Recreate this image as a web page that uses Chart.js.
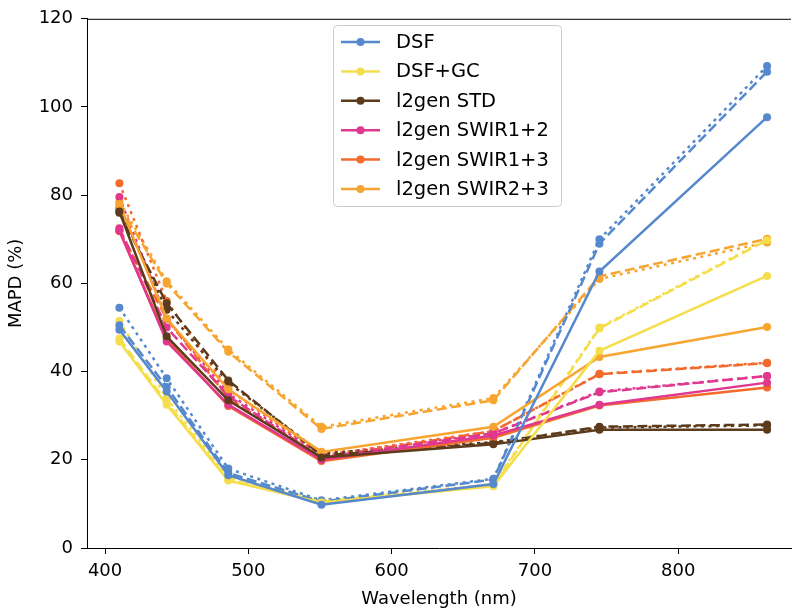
<!DOCTYPE html>
<html>
<head>
<meta charset="utf-8">
<script src="https://cdn.jsdelivr.net/npm/chart.js@4.4.1/dist/chart.umd.min.js"></script>
<style>
  html, body { margin: 0; padding: 0; background: #fff; overflow: hidden; }
  canvas { display: block; }
</style>
</head>
<body>
<canvas id="mapd_chart" width="795" height="613"></canvas>
<script>
// wavelengths (nm) of the bands
const wavelengths = [410, 443, 486, 551, 671, 745, 862];
const xTicks = [400, 500, 600, 700, 800];
const yTicks = [0, 20, 40, 60, 80, 100, 120];

const methods = ["DSF", "DSF+GC", "l2gen STD", "l2gen SWIR1+2", "l2gen SWIR1+3", "l2gen SWIR2+3"];
const colors = ["#5588cc", "#f4de4c", "#5c3b1c", "#e0378f", "#f26a2c", "#f7a530"];

// MAPD values: solid / dashed / dotted per method
const dsfSolid = [49.5, 35.5, 16.5, 9.8, 14.5, 62.7, 97.7];
const dsfDashed = [50.5, 36.5, 17.0, 10.5, 15.5, 69.0, 108.0];
const dsfDotted = [54.5, 38.5, 18.0, 10.8, 15.7, 70.0, 109.3];

const gcSolid = [46.8, 32.5, 15.3, 10.3, 14.0, 44.7, 61.7];
const gcDashed = [47.5, 33.0, 15.5, 10.5, 14.2, 49.8, 69.8];
const gcDotted = [51.5, 34.0, 16.0, 10.6, 14.5, 50.0, 70.0];

const stdSolid = [76.3, 48.0, 33.5, 20.5, 23.5, 26.8, 26.8];
const stdDashed = [76.0, 55.5, 38.0, 21.0, 23.8, 27.5, 28.0];
const stdDotted = [77.0, 54.0, 37.5, 21.5, 24.0, 27.3, 27.8];

const swir12Solid = [72.0, 46.8, 32.5, 20.0, 25.5, 32.5, 37.5];
const swir12Dashed = [72.5, 50.0, 34.5, 20.5, 26.0, 35.3, 39.0];
const swir12Dotted = [79.6, 52.0, 35.0, 21.0, 26.0, 35.5, 39.0];

const swir13Solid = [71.8, 47.5, 32.2, 19.7, 25.0, 32.3, 36.4];
const swir13Dashed = [72.0, 52.0, 34.0, 20.5, 26.5, 39.4, 41.9];
const swir13Dotted = [82.7, 56.0, 36.0, 21.0, 26.5, 39.5, 42.0];

const swir23Solid = [78.0, 52.0, 36.0, 21.8, 27.5, 43.3, 50.1];
const swir23Dashed = [77.5, 60.0, 44.5, 27.0, 33.5, 61.6, 70.1];
const swir23Dotted = [78.5, 60.5, 45.0, 27.5, 34.0, 61.0, 69.3];

const solidSeries = [dsfSolid, gcSolid, stdSolid, swir12Solid, swir13Solid, swir23Solid];
const dashedSeries = [dsfDashed, gcDashed, stdDashed, swir12Dashed, swir13Dashed, swir23Dashed];
const dottedSeries = [dsfDotted, gcDotted, stdDotted, swir12Dotted, swir13Dotted, swir23Dotted];

const FONT = "'DejaVu Sans', sans-serif";
const DASHED = [10, 4.5];
const DOTTED = [3, 4.5];

function makeDataset(label, values, color, dash) {
  return {
    label: label,
    data: values.map((v, i) => ({ x: wavelengths[i], y: v })),
    borderColor: color,
    backgroundColor: color,
    pointBackgroundColor: color,
    pointBorderWidth: 0,
    pointRadius: 4,
    borderWidth: 2.5,
    borderDash: dash,
    borderCapStyle: "butt",
    tension: 0,
    fill: false,
  };
}

const datasets = [];
methods.forEach(function (name, i) {
  datasets.push(makeDataset(name, solidSeries[i], colors[i], []));
});
methods.forEach(function (name, i) {
  datasets.push(makeDataset(name + " dashed", dashedSeries[i], colors[i], DASHED));
});
methods.forEach(function (name, i) {
  datasets.push(makeDataset(name + " dotted", dottedSeries[i], colors[i], DOTTED));
});

// top spine + matplotlib style legend box
const framePlugin = {
  id: "frame",
  afterDraw(chart) {
    const ctx = chart.ctx;
    const area = chart.chartArea;
    ctx.save();
    ctx.strokeStyle = "#000";
    ctx.lineWidth = 1;
    ctx.beginPath();
    ctx.moveTo(area.left, area.top + 0.5);
    ctx.lineTo(area.right, area.top + 0.5);
    ctx.stroke();

    // legend
    const bx = 333, by = 25, bw = 228, bh = 181, r = 4;
    ctx.beginPath();
    ctx.roundRect(bx + 0.5, by + 0.5, bw, bh, r);
    ctx.fillStyle = "rgba(255,255,255,0.8)";
    ctx.fill();
    ctx.strokeStyle = "#cccccc";
    ctx.stroke();

    ctx.font = "19.5px " + FONT;
    ctx.textBaseline = "middle";
    ctx.textAlign = "left";
    methods.forEach(function (name, i) {
      const y = 42 + i * 29.4;
      ctx.strokeStyle = colors[i];
      ctx.lineWidth = 2.5;
      ctx.beginPath();
      ctx.moveTo(341, y);
      ctx.lineTo(380, y);
      ctx.stroke();
      ctx.fillStyle = colors[i];
      ctx.beginPath();
      ctx.arc(360.5, y, 4, 0, Math.PI * 2);
      ctx.fill();
      ctx.fillStyle = "#000";
      ctx.fillText(name, 396, y + 1);
    });
    ctx.restore();
  },
};

document.addEventListener("DOMContentLoaded", function () {
  const canvas = document.getElementById("mapd_chart");
  new Chart(canvas, {
    type: "line",
    data: { datasets: datasets },
    options: {
      responsive: false,
      animation: false,
      devicePixelRatio: 1,
      layout: { padding: { top: 16, right: 0, left: 0, bottom: 0 } },
      plugins: {
        legend: { display: false },
        tooltip: { enabled: false },
      },
      scales: {
        x: {
          type: "linear",
          min: 387.4,
          max: 878.7,
          afterFit(scale) { scale.height = 65; },
          afterBuildTicks(axis) { axis.ticks = xTicks.map((v) => ({ value: v })); },
          grid: { drawOnChartArea: false, drawTicks: true, tickLength: 6, color: "#000", tickWidth: 1 },
          border: { display: true, color: "#000", width: 1 },
          ticks: { color: "#000", padding: 7, font: { family: FONT, size: 18 }, maxRotation: 0 },
          title: {
            display: true,
            text: "Wavelength (nm)",
            color: "#000",
            font: { family: FONT, size: 18 },
            padding: { top: 0, bottom: 3 },
          },
        },
        y: {
          type: "linear",
          min: 0,
          max: 120,
          afterFit(scale) { scale.width = 87; },
          afterBuildTicks(axis) { axis.ticks = yTicks.map((v) => ({ value: v })); },
          grid: { drawOnChartArea: false, drawTicks: true, tickLength: 6, color: "#000", tickWidth: 1 },
          border: { display: true, color: "#000", width: 1 },
          ticks: { color: "#000", padding: 8, font: { family: FONT, size: 18 } },
          title: {
            display: true,
            text: "MAPD (%)",
            color: "#000",
            font: { family: FONT, size: 18 },
            padding: { top: 6, bottom: 0 },
          },
        },
      },
    },
    plugins: [framePlugin],
  });
});
</script>
</body>
</html>
